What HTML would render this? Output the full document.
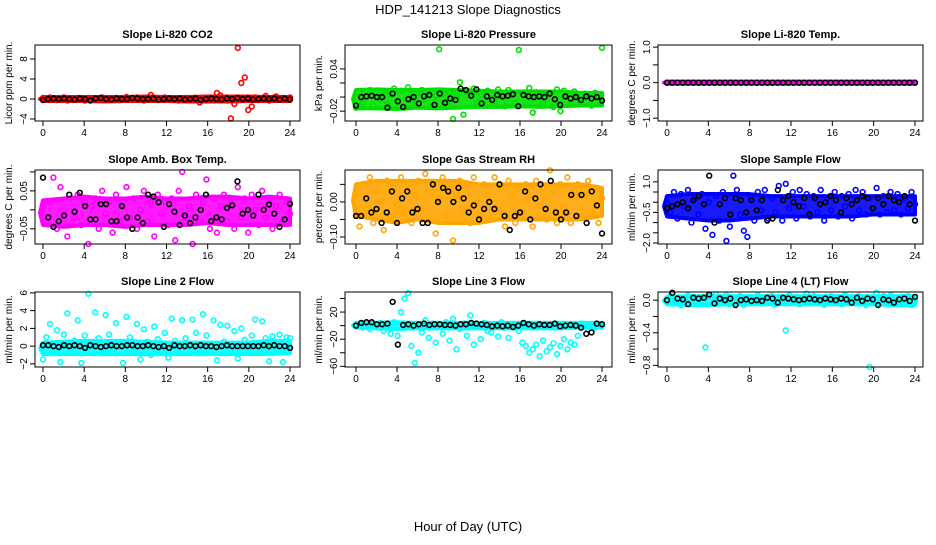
<!DOCTYPE html>
<html><head><meta charset="utf-8"><style>
body{margin:0;background:#fff}
svg text{font-family:"Liberation Sans",sans-serif}
</style></head><body>
<svg id="c" width="936" height="540" xmlns="http://www.w3.org/2000/svg">
<rect width="936" height="540" fill="#fff"/>
<text x="468" y="14" text-anchor="middle" font-size="13">HDP_141213  Slope Diagnostics</text>
<text x="468" y="531" text-anchor="middle" font-size="13">Hour of Day (UTC)</text>
</svg>
<script>
const xTicks=[0,4,8,12,16,20,24];
const co2Vals=[0.2,-0.1,0.3,0,-0.2,0.1,0.3,-0.3,0.1,0,0.2,-0.1,-0.3,0.2,0.1,0,-0.2,0.3,0.1,-0.1,0,0.2,-0.2,0.1,0.4,-0.1,0,0.3,0.2,-0.3,0.1,0.8,0,-0.2,0.1,0.3,-0.1,0.2,0,-0.3,0.1,0.2,-0.1,0,0.2,-0.7,0.1,-0.2,0.3,0,1.2,0.7,0.2,-0.3,-3.9,-1.0,10.2,3.2,4.3,-2.2,-1.5,0.3,-0.2,0.1,0.6,-0.3,0.2,0.5,-0.1,0.2,0,0.3];
const co2Mean=[-0.2,0,0.1,0,0.1,0,-0.1,0.1,0,-0.3,0.1,0.2,0,-0.1,0.1,0,0,0.2,0.1,0,0,0.1,-0.1,0,0.1,0,0.1,-0.1,0,0.1,-0.2,0,0.1,0,-0.1,0.1,0,0.2,0,0.1,-0.1,0,0.1,0,0.1,-0.1,0.1,-0.1];
const co2BandLo=[-0.4,-0.4,-0.4,-0.5,-0.4,-0.4,-0.4,-0.5,-0.5,-0.5,-0.4,-0.4,-0.4];
const co2BandHi=[0.4,0.4,0.4,0.4,0.4,0.5,0.4,0.4,0.5,0.5,0.5,0.4,0.4];
const presVals=[-0.015,0.005,-0.008,0.002,0.01,-0.012,0.006,-0.003,0.008,-0.01,0.004,0.012,-0.005,0.009,-0.015,0.014,0.003,-0.009,0.006,0.01,-0.004,0.007,-0.013,0.002,0.068,0.004,-0.01,0.006,-0.031,0.001,0.021,-0.025,0.008,0.005,0.012,-0.007,0.003,-0.011,0.009,0.004,-0.006,0.011,0.002,-0.013,0.01,0.003,-0.008,0.067,0.005,-0.012,0.013,-0.022,0.007,0.002,-0.009,0.006,0.004,-0.014,0.011,-0.02,0.009,0.003,-0.006,0.008,0.002,-0.01,0.005,0.004,-0.012,0.006,0.001,0.07];
const presMean=[-0.012,0,0.001,0.002,0,0,-0.015,0.005,-0.006,-0.014,-0.003,0,-0.009,0.001,0.003,-0.011,0.005,-0.008,-0.002,-0.004,0.012,0.01,0.002,0.011,-0.009,0.001,-0.004,0.003,0.001,0.002,0.004,-0.013,0.003,0.001,0,0.001,0,0.005,-0.003,-0.011,0.001,-0.002,0,-0.004,0.001,-0.002,0,-0.005];
const presBandLo=[-0.016,-0.016,-0.017,-0.015,-0.016,-0.015,-0.014,-0.014,-0.013,-0.014,-0.013,-0.012,-0.012];
const presBandHi=[0.01,0.011,0.01,0.01,0.011,0.01,0.009,0.008,0.008,0.008,0.008,0.006,0.006];
const tempVals=[0,0,0,0,0,0,0,0,0,0,0,0,0,0,0,0,0,0,0,0,0,0,0,0,0,0,0,0,0,0,0,0,0,0,0,0,0,0,0,0,0,0,0,0,0,0,0,0,0,0,0,0,0,0,0,0,0,0,0,0,0,0,0,0,0,0,0,0,0,0,0,0];
const tempMean=[0,0,0,0,0,0,0,0,0,0,0,0,0,0,0,0,0,0,0,0,0,0,0,0,0,0,0,0,0,0,0,0,0,0,0,0,0,0,0,0,0,0,0,0,0,0,0,0];
const tempBandLo=[-0.03,-0.03,-0.03,-0.03,-0.03,-0.03,-0.03,-0.03,-0.03,-0.03,-0.03,-0.03,-0.03];
const tempBandHi=[0.03,0.03,0.03,0.03,0.03,0.03,0.03,0.03,0.03,0.03,0.03,0.03,0.03];
const ambVals=[0.01,-0.03,0.02,0.085,-0.05,0.06,0.0,-0.07,0.03,-0.02,0.04,-0.04,0.02,-0.09,0.01,0.03,-0.05,0.05,-0.01,0.02,-0.06,0.04,-0.03,0.01,0.06,-0.02,0.03,-0.05,0.0,0.05,-0.03,0.02,-0.07,0.04,-0.01,0.02,-0.04,0.03,-0.08,0.05,0.1,-0.02,0.01,-0.09,0.04,-0.03,0.02,0.08,-0.05,0.03,-0.06,0.01,0.04,-0.03,0.02,-0.05,0.06,-0.02,0.03,-0.06,0.04,0.0,-0.04,0.05,-0.02,0.03,-0.05,0.01,0.04,-0.03,0.02,-0.01];
const ambMean=[0.085,-0.02,-0.045,-0.03,-0.015,0.04,-0.005,0.045,0.01,-0.025,-0.025,0.015,0.015,-0.03,-0.03,0.01,-0.02,-0.05,-0.02,-0.035,0.04,0.035,0.02,-0.045,0.015,-0.005,-0.04,-0.015,-0.035,-0.02,0.0,0.04,-0.03,-0.02,-0.025,0.005,0.012,0.075,-0.01,0.0,-0.015,0.04,0.0,0.014,-0.01,-0.045,-0.025,0.016];
const ambBandLo=[-0.04,-0.045,-0.04,-0.04,-0.045,-0.04,-0.04,-0.04,-0.035,-0.04,-0.04,-0.04,-0.04];
const ambBandHi=[0.025,0.03,0.035,0.03,0.03,0.035,0.03,0.03,0.035,0.035,0.03,0.035,0.03];
const rhVals=[0.02,-0.07,0.05,-0.02,0.07,-0.06,0.03,0.0,-0.08,0.06,-0.04,0.04,-0.01,0.07,-0.03,0.05,-0.06,0.02,0.06,-0.02,0.08,-0.05,0.03,-0.09,0.01,0.07,-0.04,0.05,-0.11,0.02,0.06,-0.03,0.04,-0.06,0.07,0.0,-0.04,0.05,0.02,-0.05,0.07,-0.02,0.04,-0.07,0.06,0.01,-0.06,0.04,-0.03,0.05,0.02,-0.07,0.06,-0.01,0.04,-0.05,0.09,0.03,-0.06,0.05,-0.02,0.07,-0.06,0.03,0.05,-0.04,0.02,0.06,-0.03,0.04,-0.06,0.01];
const rhMean=[-0.04,-0.04,0.01,-0.03,-0.02,-0.06,-0.03,0.03,-0.06,0.01,0.03,-0.03,-0.02,-0.06,-0.06,0.05,0.0,0.04,0.03,0.0,0.04,0.01,-0.03,-0.01,-0.05,-0.02,0.0,-0.02,0.05,-0.04,-0.08,-0.04,-0.03,0.03,-0.05,0.01,0.05,-0.02,0.06,-0.03,-0.05,-0.03,0.02,-0.04,0.02,-0.06,0.03,-0.01,-0.09];
const rhBandLo=[-0.04,-0.05,-0.06,-0.05,-0.06,-0.06,-0.06,-0.05,-0.05,-0.05,-0.05,-0.05,-0.04];
const rhBandHi=[0.05,0.06,0.06,0.06,0.06,0.06,0.05,0.05,0.05,0.05,0.05,0.05,0.04];
const sfVals=[0,-0.5,0.5,-0.8,0.4,-0.2,0.6,-1.0,0.2,-0.6,0.4,-1.3,0,-1.6,0.3,-0.9,0.5,-1.9,-1.2,1.3,0.6,-0.6,-1.4,-1.7,0.2,-0.9,0.5,-0.4,0.6,-0.8,0.2,-0.5,0.8,-0.9,0.9,-0.3,0.5,-0.8,0.6,-0.2,0.4,-0.7,0.3,-0.5,0.6,-0.9,0.2,-0.4,0.5,-0.7,0.3,-0.2,0.4,-0.8,0.6,-0.4,0.5,-0.6,0.2,-0.3,0.7,-0.6,0.3,-0.5,0.5,-0.4,0.4,-0.6,0.2,-0.3,0.5,-0.1];
const sfMean=[-0.3,-0.2,-0.1,0,-0.3,0.1,0.3,-0.1,1.3,-1.0,-0.1,0.2,-0.6,0.2,0.1,-0.5,0.1,-0.4,0.1,-0.9,-0.8,0.6,0.1,0.3,0.0,-0.2,0.2,-0.6,0.2,-0.1,0.0,0.3,0.1,-0.5,0.2,-0.1,0.1,0.3,0.2,-0.3,0.2,-0.1,0.3,0.1,0,0.3,-0.1,-0.9];
const sfBandLo=[-0.7,-0.8,-0.9,-0.9,-0.8,-0.7,-0.7,-0.7,-0.7,-0.7,-0.6,-0.6,-0.6];
const sfBandHi=[0.3,0.4,0.4,0.4,0.4,0.3,0.3,0.3,0.3,0.3,0.3,0.3,0.3];
const l2Vals=[-1.5,1.0,2.5,-0.8,1.8,-1.8,1.3,3.7,-0.5,0.6,2.9,-1.9,1.2,5.9,-0.6,3.8,0.9,-0.8,3.5,1.3,-0.4,2.6,0.4,-1.9,3.3,1.0,-0.7,2.5,-1.5,1.9,0.5,-1.0,2.2,0.8,-0.5,1.5,-1.3,3.1,0.6,-0.6,2.9,0.9,-0.4,3.0,1.5,-0.8,3.6,1.2,-0.6,2.9,-1.6,2.4,0.5,2.3,-0.5,1.7,-1.4,2.0,0.7,-0.6,1.2,3.0,-0.4,2.8,0.9,-1.7,1.1,-0.7,1.3,-1.8,1.0,0.9];
const l2Mean=[0.1,0.1,0,-0.1,0.1,0,0.1,0,-0.2,0.1,0,-0.1,0,0.1,0,0,0.1,0.1,0,0,0.1,0,-0.1,0,-0.2,0.1,0,0,0.1,0,0.1,0,0,-0.1,0,0.1,0,0,0,0,0,0,0.1,0,0.1,0,0,-0.2];
const l2BandLo=[-0.9,-0.9,-0.9,-0.9,-0.9,-0.9,-0.9,-0.9,-0.9,-0.9,-0.9,-0.9,-0.8];
const l2BandHi=[0.4,0.5,0.6,0.6,0.6,0.5,0.4,0.4,0.4,0.4,0.4,0.6,0.6];
const l3Vals=[0,2,-3,1,-5,3,-2,4,-8,1,-12,5,-15,20,40,48,-30,-55,-40,-10,8,-18,3,-25,0,-12,5,-22,10,-35,-5,3,-15,15,-28,0,-20,4,-8,-10,2,-16,5,-3,-18,0,2,-8,-25,-30,-40,-35,-28,-45,-22,-38,-32,-26,-42,-30,-20,-35,-25,-28,-15,3,0,-5,2,-3,1,0];
const l3Mean=[0,4,5,5,2,2,3,35,-28,1,2,0,2,3,1,2,2,1,1,0,2,2,4,3,2,1,-1,0,-1,0,-2,0,4,2,0,2,1,1,3,-1,0,1,0,-3,-12,-10,3,2];
const l3BandLo=[-3,-4,-5,-4,-4,-4,-4,-4,-4,-4,-4,-3,-3];
const l3BandHi=[4,4,5,4,4,4,4,4,4,4,4,4,4];
const l4Vals=[0.0,0.05,-0.04,0.03,-0.06,0.02,0.06,-0.02,0.04,-0.05,0.01,-0.58,0.05,-0.03,0.07,-0.04,0.02,0.06,-0.05,0.03,-0.02,0.05,-0.06,0.01,0.04,-0.03,0.06,-0.04,0.03,-0.01,0.05,-0.05,0.02,-0.02,-0.37,0.06,-0.03,0.04,-0.05,0.02,0.08,-0.04,0.05,-0.02,0.03,-0.06,0.02,0.05,-0.03,0.04,-0.05,0.06,-0.02,0.03,-0.04,0.05,0.01,-0.06,-0.82,0.03,0.09,-0.04,0.05,-0.02,0.06,-0.05,0.03,0.04,-0.03,0.05,-0.06,0.0];
const l4Mean=[0.0,0.09,0.02,0.01,-0.05,0.03,0.02,0.03,0.07,-0.04,0.02,0.0,0.02,-0.06,0.0,0.01,-0.01,0.0,-0.01,0.03,0.02,-0.03,0.03,0.02,0.01,0.0,0.01,0.02,0.01,0.0,0.02,0.01,0.0,0.02,0.01,-0.03,0.03,-0.01,0.02,0.01,-0.06,0.01,0.0,-0.03,0.01,0.02,-0.01,0.04];
const l4BandLo=[-0.05,-0.06,-0.06,-0.05,-0.05,-0.05,-0.05,-0.05,-0.05,-0.05,-0.05,-0.06,-0.06];
const l4BandHi=[0.04,0.05,0.05,0.05,0.05,0.05,0.05,0.05,0.05,0.05,0.05,0.05,0.05];
const co2Ticks=[-4,0,4,8],presTicks=[-0.02,0,0.02,0.04],tempTicks=[-1,-0.5,0,0.5,1],ambTicks=[-0.05,0,0.05,0.1],rhTicks=[-0.1,-0.05,0,0.05],sfTicks=[-2,-1.5,-1,-0.5,0,0.5,1],l2Ticks=[-2,0,2,4,6],l3Ticks=[-60,-40,-20,0,20,40],l4Ticks=[-0.8,-0.6,-0.4,-0.2,0];
const co2Lab=["−4","0","4","8"],presLab=["−0.02","","","0.04"],tempLab=["−1.0","","0.0","","1.0"],ambLab=["−0.05","","0.05",""],rhLab=["−0.10","","0.00",""],sfLab=["−2.0","","","−0.5","","","1.0"],l2Lab=["−2","0","2","4","6"],l3Lab=["−60","","−20","","20",""],l4Lab=["−0.8","","−0.4","","0.0"];

const NS="http://www.w3.org/2000/svg",svg=document.getElementById('c');
function mk(t,a,p){const e=document.createElementNS(NS,t);for(const k in a)e.setAttribute(k,a[k]);(p||svg).appendChild(e);return e;}
const cols=[{bl:35,br:300,x0:43,x1:290},{bl:345,br:612,x0:356,x1:602},{bl:658,br:923,x0:667,x1:915}];
const rows=[{bt:45,bb:121},{bt:170,bb:244},{bt:292,bb:367}];
const panels=[
 {t:"Slope Li-820 CO2",yl:"Licor ppm per min.",c:0,r:0,min:-4.4,max:10.8,v:co2Vals,m:co2Mean,lo:co2BandLo,hi:co2BandHi,col:"#ff0000",tk:co2Ticks,lb:co2Lab,n:"co2"},
 {t:"Slope Li-820 Pressure",yl:"kPa per min.",c:1,r:0,min:-0.034,max:0.074,v:presVals,m:presMean,lo:presBandLo,hi:presBandHi,col:"#00e000",tk:presTicks,lb:presLab,n:"pressure"},
 {t:"Slope Li-820 Temp.",yl:"degrees C per min.",c:2,r:0,min:-1.08,max:1.06,v:tempVals,m:tempMean,lo:tempBandLo,hi:tempBandHi,col:"#ff00ff",tk:tempTicks,lb:tempLab,n:"li820-temp"},
 {t:"Slope Amb. Box Temp.",yl:"degrees C per min.",c:0,r:1,min:-0.09,max:0.105,v:ambVals,m:ambMean,lo:ambBandLo,hi:ambBandHi,col:"#ff00ff",tk:ambTicks,lb:ambLab,n:"amb-temp"},
 {t:"Slope Gas Stream RH",yl:"percent per min.",c:1,r:1,min:-0.12,max:0.091,v:rhVals,m:rhMean,lo:rhBandLo,hi:rhBandHi,col:"#ffa500",tk:rhTicks,lb:rhLab,n:"rh"},
 {t:"Slope Sample Flow",yl:"ml/min per min.",c:2,r:1,min:-2.05,max:1.58,v:sfVals,m:sfMean,lo:sfBandLo,hi:sfBandHi,col:"#0000ff",tk:sfTicks,lb:sfLab,n:"sample-flow"},
 {t:"Slope Line 2 Flow",yl:"ml/min per min.",c:0,r:2,min:-2.35,max:6.1,v:l2Vals,m:l2Mean,lo:l2BandLo,hi:l2BandHi,col:"#00ffff",tk:l2Ticks,lb:l2Lab,n:"line2"},
 {t:"Slope Line 3 Flow",yl:"ml/min per min.",c:1,r:2,min:-61,max:49.6,v:l3Vals,m:l3Mean,lo:l3BandLo,hi:l3BandHi,col:"#00ffff",tk:l3Ticks,lb:l3Lab,n:"line3"},
 {t:"Slope Line 4 (LT) Flow",yl:"ml/min per min.",c:2,r:2,min:-0.82,max:0.1,v:l4Vals,m:l4Mean,lo:l4BandLo,hi:l4BandHi,col:"#00ffff",tk:l4Ticks,lb:l4Lab,n:"line4"}];
panels.forEach(p=>{
 const C=cols[p.c],R=rows[p.r];
 const g=mk('g',{});
 
 
 const xs=h=>C.x0+(C.x1-C.x0)*h/24;
 const ys=v=>R.bb-(R.bb-R.bt)*(v-p.min)/(p.max-p.min);
 const hx=(i,n)=>xs(24*i/(n-1));
 const t=mk('text',{x:(C.bl+C.br)/2,y:R.bt-7,'text-anchor':'middle','font-size':11,'font-weight':'bold'},g);t.textContent=p.t;
 
 const yt=mk('text',{x:0,y:0,'text-anchor':'middle','font-size':10,transform:`translate(${C.bl-23},${(R.bt+R.bb)/2}) rotate(-90)`},g);yt.textContent=p.yl;
 
 const top=p.hi.map((v,i)=>[xs(24*i/(p.hi.length-1)),ys(v)]);
 const bot=p.lo.map((v,i)=>[xs(24*i/(p.lo.length-1)),ys(v)]).reverse();
 const pts=top.concat(bot);
 pts.unshift([top[0][0]-3,(top[0][1]+bot[bot.length-1][1])/2]);
 const band=mk('polygon',{points:pts.map(q=>q.join(',')).join(' '),fill:p.col,stroke:p.col,'stroke-width':4,'stroke-linejoin':'round','fill-opacity':0.9},g);
 
 p.v.forEach((v,i)=>{const e=mk('circle',{cx:hx(i,p.v.length),cy:ys(v),r:2.4,fill:'none',stroke:p.col,'stroke-width':1.6},g);
  });
 p.m.forEach((v,i)=>{const e=mk('circle',{cx:hx(i,p.m.length),cy:ys(v),r:2.4,fill:'none',stroke:'#000','stroke-width':1.6},g);
  });
 mk('rect',{x:C.bl,y:R.bt,width:C.br-C.bl,height:R.bb-R.bt,fill:'none',stroke:'#000','stroke-width':1},g);
 mk('line',{x1:xs(0),x2:xs(24),y1:R.bb,y2:R.bb,stroke:'#000'},g);
 xTicks.forEach(h=>{mk('line',{x1:xs(h),x2:xs(h),y1:R.bb,y2:R.bb+5,stroke:'#000'},g);
  const l=mk('text',{x:xs(h),y:R.bb+15,'text-anchor':'middle','font-size':10},g);l.textContent=h;
  });
 p.tk.forEach((v,i)=>{const y=ys(v);mk('line',{x1:C.bl-5,x2:C.bl,y1:y,y2:y,stroke:'#000'},g);
  if(p.lb[i]){const l=mk('text',{x:0,y:0,'text-anchor':'middle','font-size':10,transform:`translate(${C.bl-8},${y}) rotate(-90)`},g);l.textContent=p.lb[i];
  }});
});
</script>
</body></html>
